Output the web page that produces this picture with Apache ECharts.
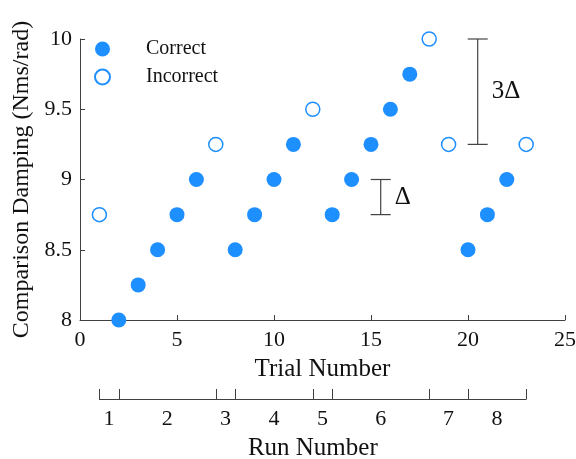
<!DOCTYPE html>
<html>
<head>
<meta charset="utf-8">
<script src="https://cdn.jsdelivr.net/npm/echarts@6/dist/echarts.min.js"></script>
<style>
  html, body { margin: 0; padding: 0; background: #fff; }
  #chart { width: 576px; height: 459px; }
</style>
</head>
<body>
<div id="chart"></div>
<script>
// Trial data: comparison damping per trial, split by response
const correctTrials = [2, 3, 4, 5, 6, 8, 9, 10, 11, 13, 14, 15, 16, 17, 20, 21, 22];
const correctValues = [8, 8.25, 8.5, 8.75, 9, 8.5, 8.75, 9, 9.25, 8.75, 9, 9.25, 9.5, 9.75, 8.5, 8.75, 9];
const incorrectTrials = [1, 7, 12, 18, 19, 23];
const incorrectValues = [8.75, 9.25, 9.5, 10, 9.25, 9.25];

// Runs: trial boundaries between consecutive runs, and run labels
const runBounds = [1, 2, 7, 8, 12, 13, 18, 20, 23];
const runLabels = ['1', '2', '3', '4', '5', '6', '7', '8'];

// Axis ticks
const xTicks = [0, 5, 10, 15, 20, 25];
const yTicks = [8, 8.5, 9, 9.5, 10];

// Step-size brackets: [trial, low, high, label]
const brackets = [
  [20.5, 9.25, 10, '3Δ'],
  [15.5, 8.75, 9, 'Δ']
];

const FONT = '"Liberation Serif", "DejaVu Serif", serif';
const BLUE = '#1E8FFF';
const AXIS = '#404040';
const TEXT = '#111';

const plot = { left: 80, right: 11, top: 39, bottom: 139 };
const chartW = 576;
const plotW = chartW - plot.left - plot.right;
const xMin = xTicks[0], xMax = xTicks[xTicks.length - 1];
const toPx = v => plot.left + (v - xMin) / (xMax - xMin) * plotW;

const runMid = [];
for (let i = 0; i < runLabels.length; i++) runMid.push((runBounds[i] + runBounds[i + 1]) / 2);

const zip = (a, b) => a.map((v, i) => [v, b[i]]);

const chart = echarts.init(document.getElementById('chart'), null, { renderer: 'canvas' });

chart.setOption({
  animation: false,
  backgroundColor: '#fff',
  textStyle: { fontFamily: FONT },
  legend: {
    orient: 'vertical',
    left: 89,
    top: 34,
    itemWidth: 15,
    itemHeight: 15,
    itemGap: 8,
    textStyle: { fontFamily: FONT, fontSize: 20, color: TEXT, padding: [0, 0, 0, 31] },
    data: ['Correct', 'Incorrect']
  },
  grid: [
    { left: plot.left, right: plot.right, top: plot.top, bottom: plot.bottom, outerBoundsMode: 'none', containLabel: false },
    {
      left: toPx(runBounds[0]),
      right: chartW - toPx(runBounds[runBounds.length - 1]),
      top: 389, height: 10,
      outerBoundsMode: 'none', containLabel: false
    }
  ],
  xAxis: [
    {
      gridIndex: 0,
      type: 'value',
      min: xMin, max: xMax, interval: 5,
      name: 'Trial Number',
      nameLocation: 'middle',
      nameGap: 37,
      nameTextStyle: { fontFamily: FONT, fontSize: 25, color: TEXT },
      axisLine: { show: true, onZero: false, lineStyle: { color: AXIS, width: 1 } },
      axisTick: { show: true, inside: true, length: 5, lineStyle: { color: AXIS } },
      axisLabel: { fontFamily: FONT, fontSize: 22, color: TEXT, margin: 9 },
      splitLine: { show: false }
    },
    {
      gridIndex: 1,
      type: 'value',
      position: 'bottom',
      min: runBounds[0], max: runBounds[runBounds.length - 1],
      name: 'Run Number',
      nameLocation: 'middle',
      nameGap: 37,
      nameTextStyle: { fontFamily: FONT, fontSize: 25, color: TEXT },
      axisLine: { show: true, onZero: false, lineStyle: { color: AXIS, width: 1 } },
      axisTick: { show: true, inside: true, length: 10, customValues: runBounds, lineStyle: { color: AXIS } },
      axisLabel: {
        fontFamily: FONT, fontSize: 22, color: TEXT, margin: 9,
        customValues: runMid,
        showMinLabel: true, showMaxLabel: true,
        formatter: v => {
          const i = runMid.findIndex(m => Math.abs(m - v) < 1e-6);
          return i >= 0 ? runLabels[i] : '';
        }
      },
      splitLine: { show: false }
    }
  ],
  yAxis: [
    {
      gridIndex: 0,
      type: 'value',
      min: yTicks[0], max: yTicks[yTicks.length - 1], interval: 0.5,
      name: 'Comparison Damping (Nms/rad)',
      nameLocation: 'middle',
      nameGap: 46,
      nameTextStyle: { fontFamily: FONT, fontSize: 24, color: TEXT },
      axisLine: { show: true, onZero: false, lineStyle: { color: AXIS, width: 1 } },
      axisTick: { show: true, inside: true, length: 5, lineStyle: { color: AXIS } },
      axisLabel: { fontFamily: FONT, fontSize: 22, color: TEXT, margin: 8 },
      splitLine: { show: false }
    },
    { gridIndex: 1, type: 'value', show: false, min: 0, max: 1 }
  ],
  series: [
    {
      name: 'Correct',
      type: 'scatter',
      xAxisIndex: 0, yAxisIndex: 0,
      clip: false,
      symbol: 'circle',
      symbolSize: 15,
      itemStyle: { color: BLUE, opacity: 1 },
      data: zip(correctTrials, correctValues)
    },
    {
      name: 'Incorrect',
      type: 'scatter',
      xAxisIndex: 0, yAxisIndex: 0,
      clip: false,
      symbol: 'circle',
      symbolSize: 14,
      itemStyle: { color: '#fff', borderColor: BLUE, borderWidth: 1.5, opacity: 1 },
      data: zip(incorrectTrials, incorrectValues)
    },
    {
      name: 'brackets',
      type: 'custom',
      xAxisIndex: 0, yAxisIndex: 0,
      clip: false,
      silent: true,
      data: brackets,
      renderItem: (params, api) => {
        const top = api.coord([api.value(0), api.value(2)]);
        const bot = api.coord([api.value(0), api.value(1)]);
        const half = 10;
        const ls = { stroke: '#444', lineWidth: 1.2 };
        const label = brackets[params.dataIndex][3];
        return {
          type: 'group',
          children: [
            { type: 'line', shape: { x1: top[0], y1: top[1], x2: bot[0], y2: bot[1] }, style: ls },
            { type: 'line', shape: { x1: top[0] - half, y1: top[1], x2: top[0] + half, y2: top[1] }, style: ls },
            { type: 'line', shape: { x1: bot[0] - half, y1: bot[1], x2: bot[0] + half, y2: bot[1] }, style: ls },
            {
              type: 'text',
              x: top[0] + 14,
              y: (top[1] + bot[1]) / 2,
              style: {
                text: label, fontFamily: FONT, fontSize: 25, fill: TEXT,
                textAlign: 'left', textVerticalAlign: 'middle'
              }
            }
          ]
        };
      }
    }
  ]
});
</script>
</body>
</html>
